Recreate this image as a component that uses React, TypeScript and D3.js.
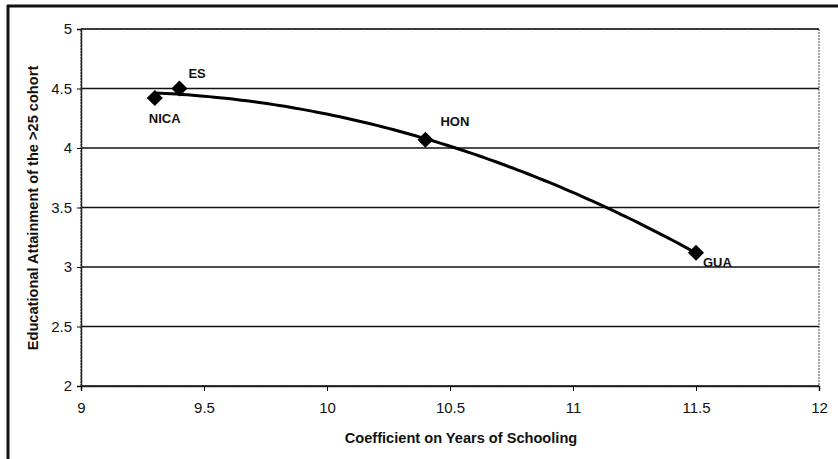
import React, { useEffect, useRef } from 'react';
import * as d3 from 'd3';

const countries = ['NICA', 'ES', 'HON', 'GUA'];
const coefSchooling = [9.3, 9.4, 10.4, 11.5];
const attainment = [4.42, 4.5, 4.07, 3.12];
const xTicks = [9, 9.5, 10, 10.5, 11, 11.5, 12];
const yTicks = [2, 2.5, 3, 3.5, 4, 4.5, 5];
// label offsets relative to the marker
const labelDx = [-6, 9, 15, 7];
const labelDy = [25, -11, -14, 14];

// quadratic least-squares trend line, like the spreadsheet's polynomial trend
function quadFit(xs: number[], ys: number[]) {
  const n = xs.length;
  let s1 = 0, s2 = 0, s3 = 0, s4 = 0, t0 = 0, t1 = 0, t2 = 0;
  for (let i = 0; i < n; i++) {
    const x = xs[i], y = ys[i];
    s1 += x; s2 += x * x; s3 += x * x * x; s4 += x * x * x * x;
    t0 += y; t1 += x * y; t2 += x * x * y;
  }
  const M = [[n, s1, s2, t0], [s1, s2, s3, t1], [s2, s3, s4, t2]];
  for (let c = 0; c < 3; c++) {
    for (let r = c + 1; r < 3; r++) {
      const f = M[r][c] / M[c][c];
      for (let k = c; k < 4; k++) M[r][k] -= f * M[c][k];
    }
  }
  const b = [0, 0, 0];
  for (let r = 2; r >= 0; r--) {
    let s = M[r][3];
    for (let k = r + 1; k < 3; k++) s -= M[r][k] * b[k];
    b[r] = s / M[r][r];
  }
  return (x: number) => b[0] + b[1] * x + b[2] * x * x;
}

export default function App() {
  const ref = useRef<SVGSVGElement>(null);

  useEffect(() => {
    const svg = d3.select(ref.current);
    svg.selectAll('*').remove();

    const left = 81, right = 819, top = 29, bottom = 386;
    const x = d3.scaleLinear().domain([9, 12]).range([left, right]);
    const y = d3.scaleLinear().domain([2, 5]).range([bottom, top]);

    // outer frame
    svg.append('line').attr('x1', 7).attr('x2', 838).attr('y1', 6).attr('y2', 6)
      .attr('stroke', '#111').attr('stroke-width', 3);
    svg.append('line').attr('x1', 8).attr('x2', 8).attr('y1', 5).attr('y2', 459)
      .attr('stroke', '#111').attr('stroke-width', 3);

    // plot area border
    svg.append('rect').attr('x', left).attr('y', top)
      .attr('width', right - left).attr('height', bottom - top)
      .attr('fill', 'white').attr('stroke', '#444').attr('stroke-width', 1)
      .attr('stroke-dasharray', '2,1');

    // gridlines
    svg.append('g').selectAll('line').data(yTicks).join('line')
      .attr('x1', left).attr('x2', right)
      .attr('y1', d => y(d)).attr('y2', d => y(d))
      .attr('stroke', '#111').attr('stroke-width', 1.3);

    const font = 'Arial, "Liberation Sans", sans-serif';

    // y axis
    const yAxis = svg.append('g').attr('transform', `translate(${left},0)`)
      .call(d3.axisLeft(y).tickValues(yTicks).tickSize(4).tickFormat(d3.format('')));
    yAxis.select('.domain').attr('stroke', '#222').attr('stroke-width', 1.5);
    yAxis.selectAll('text').attr('font-family', font).attr('font-size', 15).attr('fill', '#111').attr('dx', -2);

    // x axis
    const xAxis = svg.append('g').attr('transform', `translate(0,${bottom})`)
      .call(d3.axisBottom(x).tickValues(xTicks).tickSize(5).tickFormat(d3.format('')));
    xAxis.select('.domain').attr('stroke', '#222').attr('stroke-width', 1.5);
    xAxis.selectAll('text').attr('font-family', font).attr('font-size', 15).attr('fill', '#111').attr('dy', 19);

    // trend line
    const f = quadFit(coefSchooling, attainment);
    const xs = d3.range(0, 101).map(i => coefSchooling[0] + (coefSchooling[3] - coefSchooling[0]) * i / 100);
    svg.append('path')
      .attr('d', d3.line<number>().x(d => x(d)).y(d => y(f(d)))(xs))
      .attr('fill', 'none').attr('stroke', '#000').attr('stroke-width', 3);

    // markers
    const diamond = d3.symbol().type(d3.symbolDiamond2).size(165);
    svg.append('g').selectAll('path').data(countries).join('path')
      .attr('d', diamond)
      .attr('transform', (_, i) => `translate(${x(coefSchooling[i])},${y(attainment[i])})`)
      .attr('fill', '#000');

    // point labels
    svg.append('g').selectAll('text').data(countries).join('text')
      .attr('x', (_, i) => x(coefSchooling[i]) + labelDx[i])
      .attr('y', (_, i) => y(attainment[i]) + labelDy[i])
      .attr('font-family', font).attr('font-size', 13).attr('font-weight', 'bold')
      .attr('fill', '#111')
      .text(d => d);

    // axis titles
    svg.append('text').attr('x', 461).attr('y', 443)
      .attr('text-anchor', 'middle').attr('font-family', font)
      .attr('font-size', 14.6).attr('font-weight', 'bold').attr('fill', '#111')
      .text('Coefficient on Years of Schooling');
    svg.append('text').attr('transform', `translate(38,208) rotate(-90)`)
      .attr('text-anchor', 'middle').attr('font-family', font)
      .attr('font-size', 14.6).attr('font-weight', 'bold').attr('fill', '#111')
      .text('Educational Attainment of the >25 cohort');
  }, []);

  return (
    <svg ref={ref} width={838} height={459}
      style={{ position: 'absolute', left: 0, top: 0, background: 'white' }} />
  );
}
